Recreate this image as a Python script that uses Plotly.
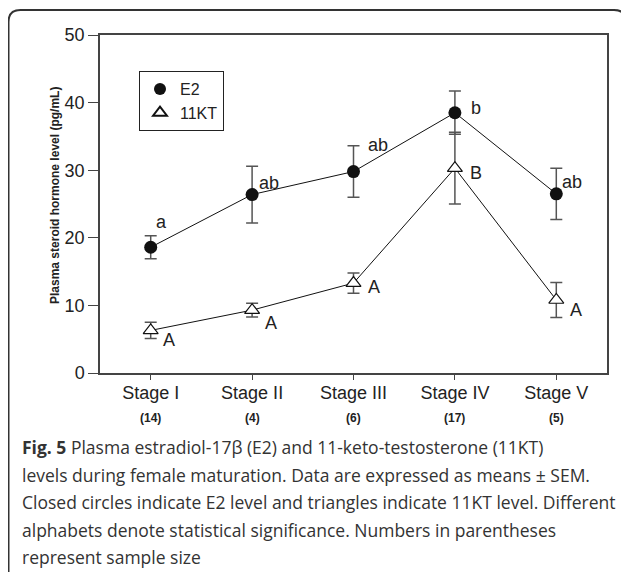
import plotly.graph_objects as go

stages = ["Stage I", "Stage II", "Stage III", "Stage IV", "Stage V"]
sample_sizes = ["(14)", "(4)", "(6)", "(17)", "(5)"]
e2_mean = [18.6, 26.4, 29.8, 38.5, 26.5]
e2_sem = [1.7, 4.2, 3.8, 3.2, 3.8]
kt_mean = [6.3, 9.3, 13.3, 30.3, 10.8]
kt_sem = [1.2, 1.0, 1.5, 5.3, 2.6]
e2_letters = ["a", "ab", "ab", "b", "ab"]
kt_letters = ["A", "A", "A", "B", "A"]
y_ticks = [0, 10, 20, 30, 40, 50]
caption_lines = [
    "<b>Fig. 5</b> Plasma estradiol-17β (E2) and 11-keto-testosterone (11KT)",
    "levels during female maturation. Data are expressed as means ± SEM.",
    "Closed circles indicate E2 level and triangles indicate 11KT level. Different",
    "alphabets denote statistical significance. Numbers in parentheses",
    "represent sample size",
]

# page has an 8px body margin: figure origin sits at (8, 8) of the window
OFF = 8
W, H = 629 - OFF, 572 - OFF
L, T = 100 - OFF, 35 - OFF
R = 629 - 607
B = 572 - 373
pw, ph = W - L - R, H - T - B

def px(x):
    return (x - OFF - L) / pw

def py(y):
    return (H - B - (y - OFF)) / ph

xi = list(range(len(stages)))
fig = go.Figure()

fig.add_trace(go.Scatter(
    x=xi, y=kt_mean, mode="lines+markers", showlegend=False,
    line=dict(color="#111", width=1),
    marker=dict(symbol="triangle-up", size=13, color="white", line=dict(color="#111", width=1.2)),
    error_y=dict(type="data", array=kt_sem, color="#555", thickness=1.5, width=6),
))
fig.add_trace(go.Scatter(
    x=xi, y=e2_mean, mode="lines+markers", showlegend=False,
    line=dict(color="#111", width=1),
    marker=dict(symbol="circle", size=13, color="#111"),
    error_y=dict(type="data", array=e2_sem, color="#555", thickness=1.5, width=6),
))
fig.add_trace(go.Scatter(
    x=[None], y=[None], mode="markers", name="E2",
    marker=dict(symbol="circle", size=13, color="#111"),
))
fig.add_trace(go.Scatter(
    x=[None], y=[None], mode="markers", name="11KT",
    marker=dict(symbol="triangle-up", size=13, color="white", line=dict(color="#111", width=1.2)),
))

ann = []
e2_off = [(11, -25), (17, -12), (24, -27), (21, -5), (16, -12)]
kt_off = [(18, 10), (19, 13), (20, 4), (21, 5), (20, 10)]
for i in xi:
    ann.append(dict(x=i, y=e2_mean[i], text=e2_letters[i], showarrow=False,
                    xshift=e2_off[i][0], yshift=-e2_off[i][1],
                    font=dict(size=18, color="#222", family="Liberation Sans, Arial")))
    ann.append(dict(x=i, y=kt_mean[i], text=kt_letters[i], showarrow=False,
                    xshift=kt_off[i][0], yshift=-kt_off[i][1],
                    font=dict(size=18, color="#222", family="Liberation Sans, Arial")))
    ann.append(dict(x=i, y=py(418), yref="paper", text="<b>" + sample_sizes[i] + "</b>",
                    showarrow=False, yanchor="middle",
                    font=dict(size=12, color="#222", family="Liberation Sans, Arial")))

ann.append(dict(x=px(46), y=py(196), xref="paper", yref="paper", textangle=-90,
                text="<b>Plasma steroid hormone level (pg/mL)</b>", showarrow=False,
                font=dict(size=12, color="#222", family="Liberation Sans, Arial")))

cap_y = [447, 474.5, 502, 529.5, 557]
for line, yy in zip(caption_lines, cap_y):
    ann.append(dict(x=px(20), y=py(yy), xref="paper", yref="paper", text=line,
                    showarrow=False, xanchor="left", yanchor="middle",
                    font=dict(size=17.5, color="#333", family="Open Sans")))

# outer rounded frame
x0, x1, y0, y1 = px(8.5), px(626), py(10), py(600)
rx, ry = 12 / pw, 12 / ph
path = (f"M{x0+rx},{y0} L{x1-rx},{y0} Q{x1},{y0} {x1},{y0-ry} "
        f"L{x1},{y1+ry} Q{x1},{y1} {x1-rx},{y1} L{x0+rx},{y1} Q{x0},{y1} {x0},{y1+ry} "
        f"L{x0},{y0-ry} Q{x0},{y0} {x0+rx},{y0} Z")

fig.update_layout(
    width=W, height=H,
    margin=dict(l=L, r=R, t=T, b=B),
    paper_bgcolor="white", plot_bgcolor="white",
    font=dict(family="Liberation Sans, Arial", color="#222", size=18),
    annotations=ann,
    shapes=[dict(type="path", path=path, xref="paper", yref="paper",
                 line=dict(color="#333", width=2), layer="below")],
    legend=dict(x=px(139), y=py(71), xanchor="left", yanchor="top",
                bordercolor="#222", borderwidth=1, bgcolor="white",
                font=dict(size=16, color="#222"), itemsizing="constant",
                tracegroupgap=0),
)
fig.update_xaxes(
    range=[-0.5, 4.5], tickmode="array", tickvals=xi, ticktext=stages,
    showline=True, linecolor="#444", linewidth=1.5, mirror=True,
    ticks="outside", ticklen=5, tickcolor="#444", showgrid=False, zeroline=False,
    tickfont=dict(size=18, color="#222"), ticklabelstandoff=-2,
)
fig.update_yaxes(
    range=[0, 50], tickmode="array", tickvals=y_ticks,
    showline=True, linecolor="#444", linewidth=1.5, mirror=True,
    ticks="outside", ticklen=10, tickcolor="#444", showgrid=False, zeroline=False,
    tickfont=dict(size=18, color="#222"),
)

fig.write_html("out.html")
